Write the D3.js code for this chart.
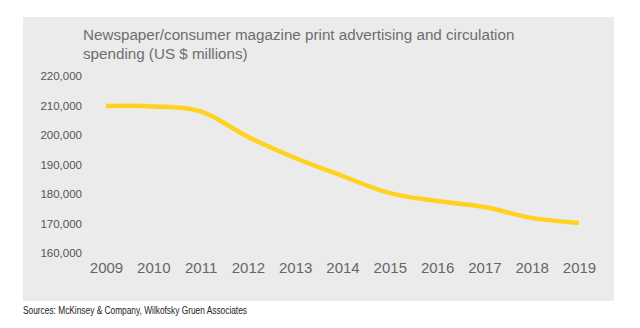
<!DOCTYPE html>
<html>
<head>
<meta charset="utf-8">
<script src="https://cdn.jsdelivr.net/npm/d3@7"></script>
<style>
  body { margin: 0; background: #fff; }
  svg { display: block; }
</style>
</head>
<body>
<svg id="chart" width="640" height="328"></svg>
<script>
var years = ["2009", "2010", "2011", "2012", "2013", "2014", "2015", "2016", "2017", "2018", "2019"];
var spending = [209800, 209700, 208000, 199400, 192200, 186100, 180300, 177600, 175600, 171900, 170200];
var yTicks = [160000, 170000, 180000, 190000, 200000, 210000, 220000];
var titleLines = ["Newspaper/consumer magazine print advertising and circulation", "spending (US $ millions)"];
var sourceText = "Sources: McKinsey & Company, Wilkofsky Gruen Associates";

var svg = d3.select("#chart");

// grey panel
svg.append("rect")
    .attr("x", 23).attr("y", 17)
    .attr("width", 591).attr("height", 284)
    .style("fill", "#ebebeb");

var x = d3.scalePoint().domain(years).range([106, 579]);
var y = d3.scaleLinear().domain([160000, 220000]).range([253, 76]);

// title
svg.append("g")
    .selectAll("text")
    .data(titleLines)
    .enter().append("text")
    .attr("x", 83)
    .attr("y", function(d, i) { return 40 + i * 19; })
    .style("font-family", "'Liberation Sans', Arial, sans-serif")
    .style("font-size", "15.2px")
    .style("fill", "#6e6e6e")
    .text(function(d) { return d; });

// y axis labels
var yAxis = d3.axisLeft(y).tickValues(yTicks).tickSize(0).tickPadding(0).tickFormat(d3.format(","));
svg.append("g")
    .attr("transform", "translate(82,0)")
    .call(yAxis)
    .call(function(g) { g.select(".domain").remove(); })
    .selectAll("text")
    .style("font-family", "'Liberation Sans', Arial, sans-serif")
    .style("font-size", "11.5px")
    .style("fill", "#555");

// x axis labels
var xAxis = d3.axisBottom(x).tickSize(0).tickPadding(0);
svg.append("g")
    .attr("transform", "translate(0,262)")
    .call(xAxis)
    .call(function(g) { g.select(".domain").remove(); })
    .selectAll("text")
    .style("font-family", "'Liberation Sans', Arial, sans-serif")
    .style("font-size", "15px")
    .style("fill", "#666");

// line
var line = d3.line()
    .x(function(d, i) { return x(years[i]); })
    .y(function(d) { return y(d); })
    .curve(d3.curveCatmullRom.alpha(0.5));

svg.append("path")
    .datum(spending)
    .attr("d", line)
    .style("fill", "none")
    .style("stroke", "#ffd21f")
    .style("stroke-width", "4.5px")
    .style("stroke-linecap", "butt");

// source
svg.append("text")
    .attr("x", 23)
    .attr("y", 314)
    .attr("textLength", 224)
    .attr("lengthAdjust", "spacingAndGlyphs")
    .style("font-family", "'Liberation Sans Narrow', 'Liberation Sans', Arial, sans-serif")
    .style("font-size", "10px")
    .style("fill", "#222")
    .text(sourceText);
</script>
</body>
</html>
